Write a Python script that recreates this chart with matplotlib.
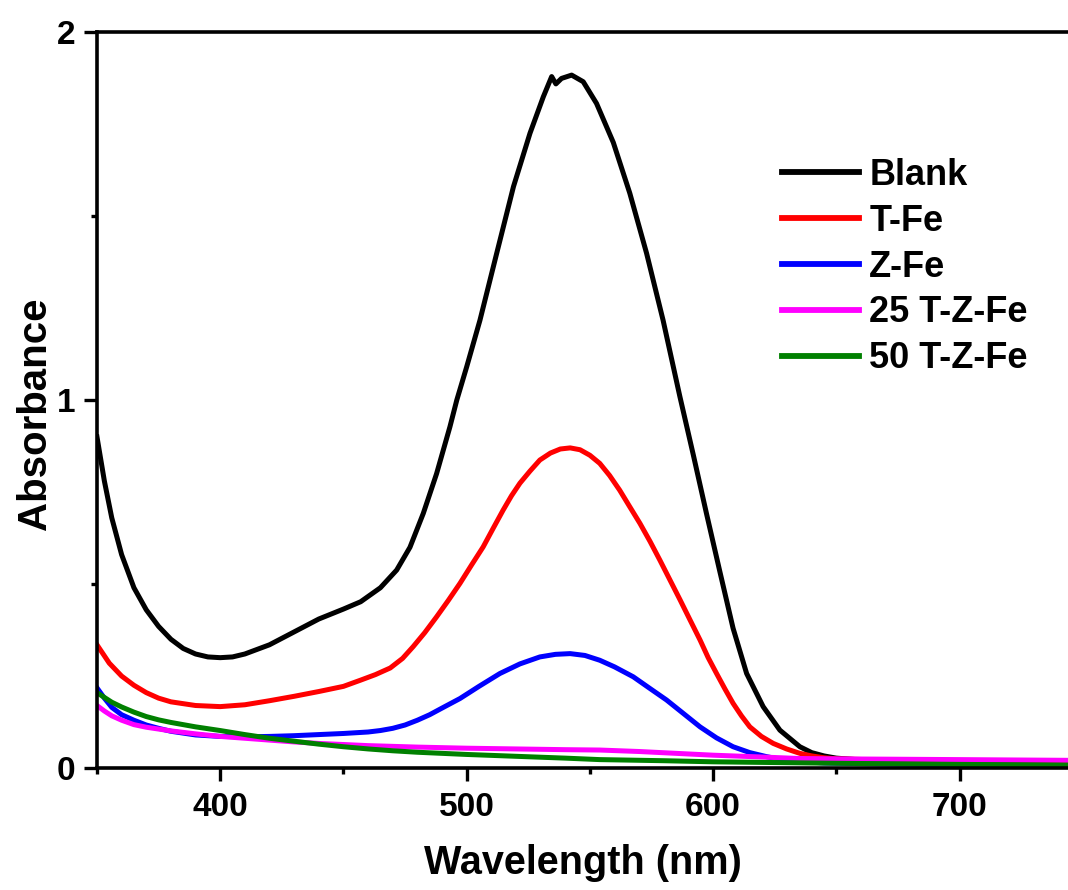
import matplotlib
matplotlib.use("Agg")
import matplotlib.pyplot as plt
from matplotlib.ticker import MultipleLocator, FixedLocator

plt.rcParams['font.family'] = ['Liberation Sans', 'DejaVu Sans']
plt.rcParams['font.weight'] = 'bold'

# Blank
wl_blank = [350, 353, 356, 360, 365, 370, 375, 380, 385, 390, 395, 400, 405, 410, 420, 430, 440,
            450, 457, 465, 471.6, 477, 482.4, 487.8, 493.2, 496, 500, 505.4, 512.2, 519, 525.7,
            531.1, 534.5, 536.2, 538.5, 542.6, 547.3, 552.7, 559.5, 566.2, 573, 579.7, 586.5,
            592, 597.3, 602.7, 608.1, 613.6, 620.3, 627.1, 635.2, 640, 645, 650, 660, 680, 700,
            720, 745]
abs_blank = [0.90, 0.78, 0.68, 0.58, 0.49, 0.43, 0.385, 0.35, 0.325, 0.31, 0.302, 0.30, 0.302,
             0.31, 0.335, 0.37, 0.405, 0.432, 0.452, 0.49, 0.538, 0.60, 0.692, 0.80, 0.927, 1.0,
             1.09, 1.217, 1.399, 1.58, 1.725, 1.824, 1.879, 1.859, 1.874, 1.883, 1.865, 1.806,
             1.70, 1.562, 1.399, 1.217, 1.01, 0.85, 0.692, 0.535, 0.38, 0.257, 0.167, 0.103,
             0.058, 0.042, 0.033, 0.027, 0.022, 0.020, 0.019, 0.018, 0.017]

# T-Fe
wl_tfe = [350, 355, 360, 365, 370, 375, 380, 390, 400, 410, 420, 430, 440, 450, 457, 463, 469,
          474, 478.3, 483, 487.8, 492.5, 497.3, 502, 506.7, 510.8, 514.8, 518.2, 521.6, 525.7,
          529.7, 534, 538, 542, 546, 550, 554, 558, 562.1, 566, 570.3, 574.4, 578.4, 582.5,
          586.6, 590.6, 594.7, 598, 601.4, 604.8, 608.1, 611.5, 614.9, 619.6, 624.4, 629.8,
          635.2, 640, 645, 650, 680, 720, 745]
abs_tfe = [0.335, 0.285, 0.25, 0.225, 0.205, 0.19, 0.18, 0.17, 0.167, 0.172, 0.183, 0.195,
           0.208, 0.222, 0.239, 0.254, 0.272, 0.298, 0.33, 0.368, 0.411, 0.455, 0.502, 0.552,
           0.601, 0.652, 0.701, 0.74, 0.774, 0.807, 0.837, 0.856, 0.867, 0.87, 0.865, 0.85,
           0.828, 0.795, 0.755, 0.712, 0.665, 0.616, 0.565, 0.511, 0.457, 0.403, 0.348, 0.30,
           0.257, 0.215, 0.176, 0.142, 0.112, 0.086, 0.067, 0.052, 0.04, 0.033, 0.028, 0.025,
           0.020, 0.018, 0.017]

# Z-Fe
wl_zfe = [350, 353, 356, 360, 365, 370, 375, 380, 390, 400, 410, 420, 430, 440, 450, 460, 465,
          470, 475, 480, 485, 490, 497.3, 505, 513.5, 521.6, 529.7, 536, 542, 548, 554, 560,
          567.6, 574, 581.1, 588, 594.7, 601.4, 608.1, 614.9, 621.7, 628, 635, 645, 660, 700,
          745]
abs_zfe = [0.218, 0.19, 0.165, 0.145, 0.13, 0.117, 0.108, 0.10, 0.09, 0.086, 0.085, 0.086,
           0.088, 0.091, 0.094, 0.098, 0.102, 0.108, 0.117, 0.13, 0.145, 0.163, 0.189, 0.222,
           0.257, 0.283, 0.302, 0.309, 0.311, 0.306, 0.293, 0.275, 0.248, 0.218, 0.185, 0.148,
           0.112, 0.082, 0.058, 0.042, 0.031, 0.023, 0.018, 0.014, 0.012, 0.009, 0.007]

# 25 T-Z-Fe
wl_25 = [350, 353, 356, 360, 365, 370, 375, 380, 390, 400, 410, 420, 430, 440, 450, 460, 480,
         500, 520, 540, 554, 570, 585, 600, 620, 635, 650, 700, 745]
abs_25 = [0.17, 0.155, 0.142, 0.13, 0.118, 0.111, 0.106, 0.101, 0.093, 0.086, 0.081, 0.076,
          0.071, 0.067, 0.064, 0.061, 0.057, 0.054, 0.052, 0.05, 0.049, 0.045, 0.04, 0.035,
          0.03, 0.026, 0.025, 0.023, 0.021]

# 50 T-Z-Fe
wl_50 = [350, 353, 356, 360, 365, 370, 375, 380, 390, 400, 410, 420, 430, 440, 450, 460, 470,
         480, 500, 520, 540, 554, 580, 600, 650, 700, 745]
abs_50 = [0.205, 0.192, 0.179, 0.166, 0.152, 0.14, 0.131, 0.124, 0.112, 0.102, 0.091, 0.081,
          0.073, 0.065, 0.058, 0.052, 0.047, 0.043, 0.037, 0.032, 0.027, 0.023, 0.02, 0.017,
          0.013, 0.01, 0.008]

series = [
    (wl_blank, abs_blank, 'Blank', '#000000'),
    (wl_tfe, abs_tfe, 'T-Fe', '#ff0000'),
    (wl_zfe, abs_zfe, 'Z-Fe', '#0000ff'),
    (wl_25, abs_25, '25 T-Z-Fe', '#ff00ff'),
    (wl_50, abs_50, '50 T-Z-Fe', '#008000'),
]

fig = plt.figure(figsize=(10.68, 8.90), dpi=100)
ax = fig.add_axes([0.0908, 0.137, 0.9092, 0.827])

for x, y, lab, c in series:
    ax.plot(x, y, color=c, lw=3.6, label=lab, solid_joinstyle='round')

ax.set_xlim(350, 744)
ax.set_ylim(0, 2)
ax.xaxis.set_major_locator(MultipleLocator(100))
ax.xaxis.set_minor_locator(MultipleLocator(50))
ax.yaxis.set_major_locator(FixedLocator([0, 1, 2]))
ax.yaxis.set_minor_locator(FixedLocator([0.5, 1.5]))
ax.set_yticklabels(['0', '1', '2'])

for s in ['left', 'bottom', 'top']:
    ax.spines[s].set_linewidth(2.6)
ax.spines['right'].set_visible(False)

ax.tick_params(which='major', direction='out', length=9.5, width=2.4, labelsize=24)
ax.tick_params(which='minor', direction='out', length=4.5, width=2.4)
ax.tick_params(axis='x', which='major', pad=8)
ax.tick_params(axis='y', which='major', pad=6)
ax.tick_params(top=False, right=False, which='both')
for t in ax.get_xticklabels() + ax.get_yticklabels():
    t.set_fontweight('bold')

ax.set_xlabel('Wavelength (nm)', fontsize=28.5, fontweight='bold', labelpad=15)
ax.set_ylabel('Absorbance', fontsize=29, fontweight='bold')
ax.yaxis.set_label_coords(-0.044, 0.481)

leg = ax.legend(loc='upper left', bbox_to_anchor=(0.732, 0.8225), bbox_transform=fig.transFigure,
                frameon=False, fontsize=26, handlelength=2.14, handletextpad=0.28,
                labelspacing=0.3, borderpad=0, borderaxespad=0)
for line in leg.get_lines():
    line.set_linewidth(4.2)
for t in leg.get_texts():
    t.set_fontweight('bold')

fig.savefig('out.png', dpi=100)
